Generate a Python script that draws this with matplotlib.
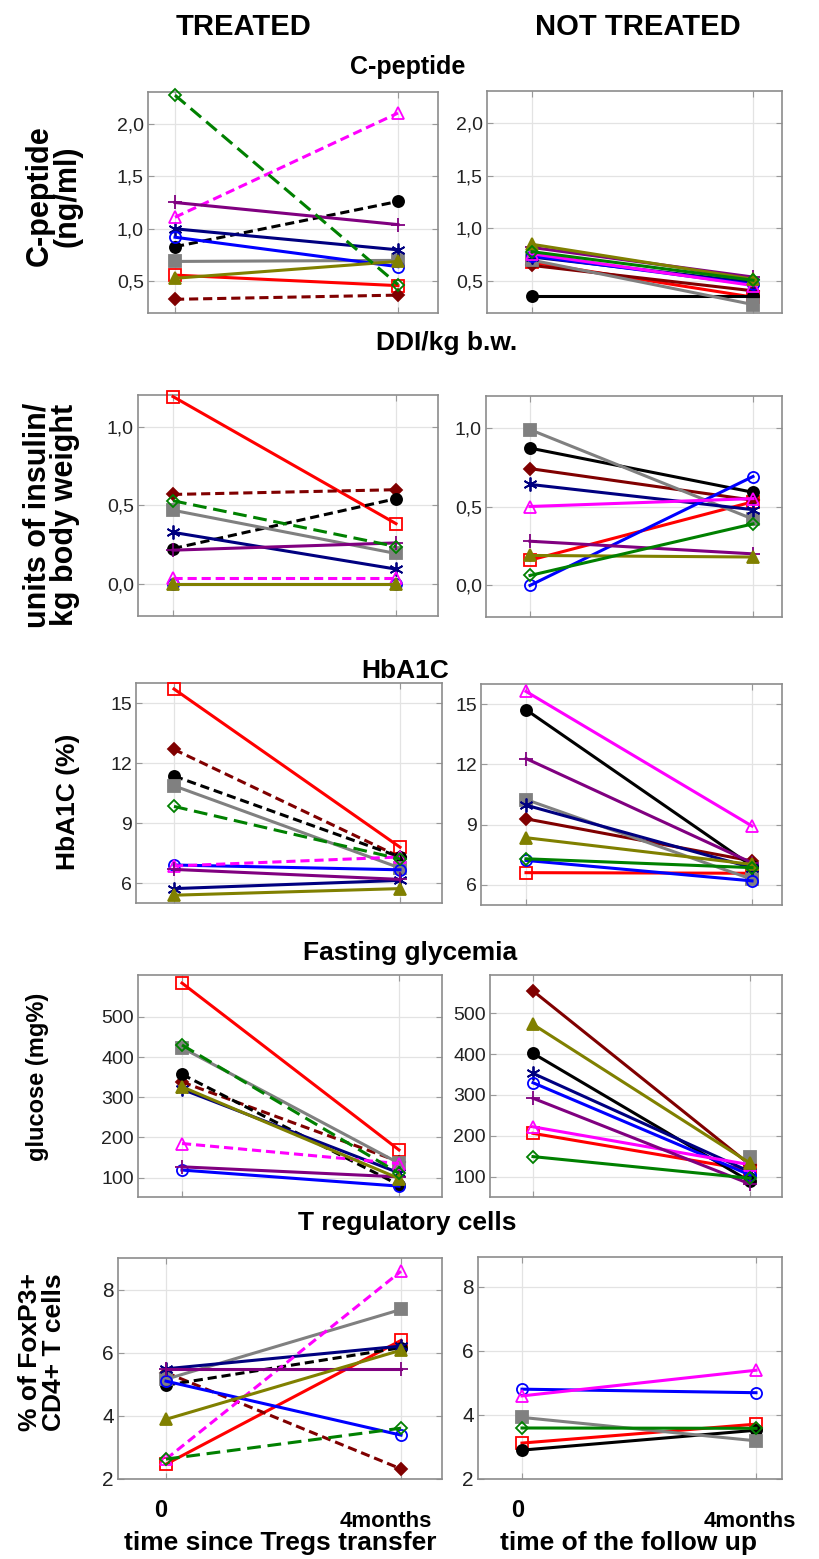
import numpy as np
import matplotlib
matplotlib.use('Agg')
import matplotlib.pyplot as plt
from matplotlib.ticker import FuncFormatter

# patients: red, darkred, black, grey, navy, blue, magenta, purple, olive, green
colors = ['#ff0000', '#800000', '#000000', '#808080', '#000080',
          '#0000ff', '#ff00ff', '#800080', '#808000', '#008000']
markers = ['s', 'D', 'o', 's', (6, 2, 0), 'o', '^', '+', '^', 'D']
filled = [False, True, True, True, True, False, False, True, True, False]
dashed_treated = [False, True, True, False, False, False, True, False, False, True]

# C-peptide (ng/ml)
cpep_tr_0 = [0.56, 0.33, 0.83, 0.69, 1.00, 0.92, 1.11, 1.25, 0.53, 2.27]
cpep_tr_4 = [0.46, 0.37, 1.26, 0.70, 0.80, 0.64, 2.10, 1.04, 0.69, 0.47]
cpep_nt_0 = [0.68, 0.65, 0.36, 0.70, 0.73, 0.74, 0.76, 0.82, 0.85, 0.78]
cpep_nt_4 = [0.35, 0.41, 0.36, 0.28, 0.49, 0.47, 0.46, 0.54, 0.52, 0.51]

# DDI / kg b.w.
ddi_tr_0 = [1.19, 0.57, 0.227, 0.47, 0.33, 0.0, 0.038, 0.217, 0.0, 0.53]
ddi_tr_4 = [0.385, 0.60, 0.543, 0.196, 0.097, 0.0, 0.038, 0.263, 0.0, 0.24]
ddi_nt_0 = [0.16, 0.74, 0.87, 0.987, 0.64, 0.0, 0.50, 0.28, 0.19, 0.063]
ddi_nt_4 = [0.53, 0.54, 0.59, 0.42, 0.48, 0.69, 0.55, 0.20, 0.18, 0.39]

# HbA1C (%)
hba_tr_0 = [15.7, 12.68, 11.35, 10.86, 5.72, 6.9, 6.85, 6.68, 5.39, 9.83]
hba_tr_4 = [7.79, 7.3, 7.3, 6.75, 6.13, 6.66, 7.3, 6.18, 5.72, 7.2]
hba_nt_0 = [6.61, 9.29, 14.72, 10.25, 9.97, 7.22, 15.63, 12.29, 8.35, 7.3]
hba_nt_4 = [6.58, 7.19, 6.94, 6.28, 6.86, 6.2, 8.93, 7.1, 7.02, 6.86]

# fasting glycemia (mg%)
glu_tr_0 = [584, 338, 357, 423, 320, 119, 185, 127, 326, 430]
glu_tr_4 = [169, 140, 82, 136, 112, 79, 135, 102, 98, 111]
glu_nt_0 = [206, 555, 402, np.nan, 353, 330, 222, 292, 473, 149]
glu_nt_4 = [116, 129, 88, 147, 112, 104, 129, 82, 133, 96]

# T regulatory cells (% of FoxP3+ CD4+ T cells)
treg_tr_0 = [2.47, 5.37, 4.97, 5.16, 5.49, 5.1, 2.63, 5.49, 3.89, 2.63]
treg_tr_4 = [6.39, 2.32, 6.16, 7.37, 6.21, 3.39, 8.58, 5.49, 6.08, 3.61]
treg_nt_0 = [3.12, np.nan, 2.9, 3.92, np.nan, 4.8, 4.59, np.nan, np.nan, 3.59]
treg_nt_4 = [3.71, np.nan, 3.52, 3.19, np.nan, 4.69, 5.39, np.nan, np.nan, 3.58]

W, H = 819, 1559
fig = plt.figure(figsize=(W / 100, H / 100), dpi=100)

NARROW = ['Liberation Sans Narrow', 'Liberation Sans', 'DejaVu Sans']
ARIAL = ['Liberation Sans', 'DejaVu Sans']

comma_fmt = FuncFormatter(lambda v, p: f'{v:.1f}'.replace('.', ','))


def panel(box, x0, x1, ylim, yticks, y0, y4, dashed, comma=False, lsize=14):
    # box and x0/x1 are pixel positions
    l, r, t, b = box
    ax = fig.add_axes([l / W, 1 - b / H, (r - l) / W, (b - t) / H])
    u = x1 - x0
    ax.set_xlim((l - x0) / u, (r - x0) / u)
    ax.set_ylim(*ylim)
    ax.set_xticks([0, 1])
    ax.set_yticks(yticks)
    if comma:
        ax.yaxis.set_major_formatter(comma_fmt)
    ax.set_xticklabels([])
    ax.grid(True, color='#e3e3e3', lw=0.9)
    ax.set_axisbelow(True)
    for s in ax.spines.values():
        s.set_color('#8c8c8c')
        s.set_linewidth(1.2)
    ax.tick_params(direction='in', length=4, color='#999999', left=True, right=True,
                   top=True, bottom=True, labelsize=lsize, labelcolor='#222222', pad=3)
    for lab in ax.get_yticklabels():
        lab.set_family(ARIAL)
    for i in range(len(colors)):
        ls = (0, (3, 1.6)) if dashed[i] else '-'
        if dashed[i] and colors[i] == '#008000':
            ls = (0, (4.5, 2.2))
        m = markers[i]
        ms = 6 if m == 'D' else (10 if m in ('+', (6, 2, 0)) else 8)
        ax.plot([0, 1], [y0[i], y4[i]], color=colors[i], lw=2.2, ls=ls,
                marker=m, ms=ms, mfc=colors[i] if filled[i] else 'none',
                mec=colors[i], mew=1.3, clip_on=False, zorder=3)
    return ax


nt_dash = [False] * 10

panel((148, 438, 92, 313), 175, 398, (0.2, 2.3), [0.5, 1.0, 1.5, 2.0],
      cpep_tr_0, cpep_tr_4, dashed_treated, comma=True)
panel((487, 782, 91, 313), 532, 753, (0.2, 2.3), [0.5, 1.0, 1.5, 2.0],
      cpep_nt_0, cpep_nt_4, nt_dash, comma=True)

panel((138, 438, 395, 616), 173, 396, (-0.2, 1.2), [0.0, 0.5, 1.0],
      ddi_tr_0, ddi_tr_4, dashed_treated, comma=True)
panel((486, 782, 396, 617), 530, 753, (-0.2, 1.2), [0.0, 0.5, 1.0],
      ddi_nt_0, ddi_nt_4, nt_dash, comma=True)

panel((136, 442, 683, 903), 174, 400, (5, 16), [6, 9, 12, 15],
      hba_tr_0, hba_tr_4, dashed_treated)
panel((481, 782, 684, 905), 526, 752, (5, 16), [6, 9, 12, 15],
      hba_nt_0, hba_nt_4, nt_dash)

panel((138, 442, 975, 1197), 182, 399, (52, 604), [100, 200, 300, 400, 500],
      glu_tr_0, glu_tr_4, dashed_treated)
panel((490, 782, 975, 1197), 533, 750, (50, 594), [100, 200, 300, 400, 500],
      glu_nt_0, glu_nt_4, nt_dash)

panel((118, 442, 1258, 1479), 166, 401, (2, 9), [2, 4, 6, 8],
      treg_tr_0, treg_tr_4, dashed_treated, lsize=15)
panel((478, 782, 1257, 1479), 522, 756, (2, 8.92), [2, 4, 6, 8],
      treg_nt_0, treg_nt_4, nt_dash, lsize=15)


def txt(x, y, s, size, fam=NARROW, rot=0, ls=1.05, va='baseline'):
    fig.text(x / W, 1 - y / H, s, ha='center', va=va, fontsize=size,
             fontweight='bold', family=fam, rotation=rot, linespacing=ls)


txt(243, 35, 'TREATED', 21)
txt(638, 35, 'NOT TREATED', 21)
txt(408, 74, 'C-peptide', 18)
txt(447, 350, 'DDI/kg b.w.', 19)
txt(405, 678, 'HbA1C', 19)
txt(410, 960, 'Fasting glycemia', 19)
txt(407, 1230, 'T regulatory cells', 19)

txt(54, 196, 'C-peptide\n(ng/ml)', 22, ARIAL, 90, ls=0.9, va='center')
txt(51, 515, 'units of insulin/\nkg body weight', 22, ARIAL, 90, ls=0.9, va='center')
txt(68, 802, 'HbA1C (%)', 19, ARIAL, 90, va='center')
txt(38, 1077, 'glucose (mg%)', 17, ARIAL, 90, va='center')
txt(42, 1352, '% of FoxP3+\nCD4+ T cells', 19, ARIAL, 90, ls=0.95, va='center')

# x tick labels of the bottom row
txt(161, 1517, '0', 17)
txt(386, 1527, '4months', 16)
txt(518, 1517, '0', 17)
txt(750, 1527, '4months', 16)

txt(280, 1550, 'time since Tregs transfer', 19)
txt(628, 1550, 'time of the follow up', 19)

fig.savefig('out.png', dpi=100)
